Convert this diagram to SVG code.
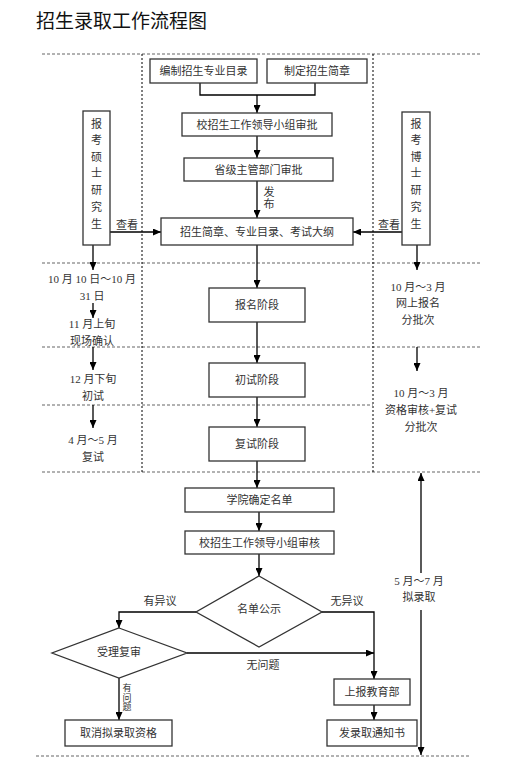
<svg xmlns="http://www.w3.org/2000/svg" width="516" height="768" viewBox="0 0 516 768">
<defs>
<marker id="ah" markerUnits="userSpaceOnUse" markerWidth="8" markerHeight="7" refX="8" refY="3.5" orient="auto">
<path d="M0,0 L8,3.5 L0,7 z" fill="#000"/>
</marker>
<style>
.bx{fill:#fff;stroke:#333;stroke-width:1.3}
.ln{fill:none;stroke:#000;stroke-width:1.3}
.ar{fill:none;stroke:#000;stroke-width:1.3;marker-end:url(#ah)}
.hd{fill:none;stroke:#666;stroke-width:1.2;stroke-dasharray:3 2}
.vd{fill:none;stroke:#000;stroke-width:1;stroke-dasharray:2 2}
.t{font-family:"Liberation Serif","Noto Sans CJK SC",serif;font-size:11px;fill:#333;text-anchor:middle;dominant-baseline:central}
.s{font-size:9px}
.title{font-family:"Noto Sans CJK SC","Liberation Sans",sans-serif;font-size:19px;fill:#111}
</style>
</defs>
<rect width="516" height="768" fill="#fff"/>
<text class="title" x="36" y="28">招生录取工作流程图</text>

<g id="grid">
<line class="hd" x1="42" y1="54" x2="480" y2="54"/>
<line class="hd" x1="42" y1="263" x2="480" y2="263"/>
<line class="hd" x1="42" y1="347" x2="480" y2="347"/>
<line class="hd" x1="42" y1="405" x2="373" y2="405"/>
<line class="hd" x1="42" y1="472" x2="480" y2="472"/>
<line class="hd" x1="36" y1="756" x2="470" y2="756"/>
<line class="vd" x1="142" y1="54" x2="142" y2="472"/>
<line class="vd" x1="373" y1="54" x2="373" y2="472"/>
</g>

<g id="connectors">
<polyline class="ln" points="200,83 200,95 315,95 315,83"/>
<line class="ar" x1="257" y1="95" x2="257" y2="113"/>
<line class="ar" x1="257" y1="136" x2="257" y2="158"/>
<line class="ar" x1="257" y1="181" x2="257" y2="218"/>
<line class="ar" x1="110" y1="232" x2="161" y2="232"/>
<line class="ar" x1="402" y1="232" x2="353" y2="232"/>
<line class="ar" x1="257" y1="245" x2="257" y2="288"/>
<line class="ar" x1="257" y1="322" x2="257" y2="363"/>
<line class="ar" x1="257" y1="397" x2="257" y2="427"/>
<line class="ar" x1="257" y1="461" x2="257" y2="488"/>
<line class="ar" x1="93" y1="245" x2="93" y2="270"/>
<line class="ar" x1="417" y1="245" x2="417" y2="270"/>
<line class="ar" x1="93" y1="303" x2="93" y2="318"/>
<line class="ar" x1="93" y1="347" x2="93" y2="370"/>
<line class="ar" x1="417" y1="347" x2="417" y2="371"/>
<line class="ar" x1="93" y1="405" x2="93" y2="428"/>
<line class="ar" x1="259" y1="512" x2="259" y2="531"/>
<line class="ar" x1="259" y1="554" x2="259" y2="576"/>
<polyline class="ar" points="196,612 119,612 119,628"/>
<polyline class="ar" points="322,612 374,612 374,679"/>
<line class="ar" x1="187" y1="653" x2="374" y2="653"/>
<line class="ar" x1="119" y1="678" x2="119" y2="720"/>
<line class="ar" x1="374" y1="705" x2="374" y2="720"/>
<line class="ar" x1="421" y1="573" x2="421" y2="473"/>
<line class="ar" x1="421" y1="610" x2="421" y2="755"/>
<text class="t" x="269" y="192">发</text>
<text class="t" x="269" y="204">布</text>
<text class="t" x="127" y="225">查看</text>
<text class="t" x="389" y="225">查看</text>
<text class="t" x="160" y="601">有异议</text>
<text class="t" x="347" y="601">无异议</text>
<text class="t" x="263" y="665">无问题</text>
<text class="t s" x="127" y="688">有</text>
<text class="t s" x="127" y="698">问</text>
<text class="t s" x="127" y="707">题</text>
</g>

<g id="n1"><rect class="bx" x="150" y="59" width="107" height="24"/><text class="t" x="203.5" y="71">编制招生专业目录</text></g>
<g id="n2"><rect class="bx" x="267" y="59" width="100" height="24"/><text class="t" x="317" y="71">制定招生简章</text></g>
<g id="n3"><rect class="bx" x="182" y="113" width="150" height="23"/><text class="t" x="257" y="124.5">校招生工作领导小组审批</text></g>
<g id="n4"><rect class="bx" x="184" y="158" width="149" height="23"/><text class="t" x="258.5" y="169.5">省级主管部门审批</text></g>
<g id="n5"><rect class="bx" x="161" y="218" width="192" height="27"/><text class="t" x="257" y="231.5">招生简章、专业目录、考试大纲</text></g>
<g id="master">
<rect class="bx" x="83" y="111" width="27" height="134"/>
<text class="t" x="96.5" y="124">报</text><text class="t" x="96.5" y="140">考</text><text class="t" x="96.5" y="157">硕</text><text class="t" x="96.5" y="173">士</text><text class="t" x="96.5" y="190">研</text><text class="t" x="96.5" y="207">究</text><text class="t" x="96.5" y="224">生</text>
</g>
<g id="doctor">
<rect class="bx" x="402" y="112" width="28" height="133"/>
<text class="t" x="416" y="124">报</text><text class="t" x="416" y="140">考</text><text class="t" x="416" y="157">博</text><text class="t" x="416" y="173">士</text><text class="t" x="416" y="190">研</text><text class="t" x="416" y="207">究</text><text class="t" x="416" y="224">生</text>
</g>
<g id="n6"><rect class="bx" x="209" y="288" width="96" height="34"/><text class="t" x="257" y="305">报名阶段</text></g>
<g id="n7"><rect class="bx" x="209" y="363" width="96" height="34"/><text class="t" x="257" y="380">初试阶段</text></g>
<g id="n8"><rect class="bx" x="209" y="427" width="96" height="34"/><text class="t" x="257" y="444">复试阶段</text></g>
<g id="n9"><rect class="bx" x="185" y="488" width="149" height="24"/><text class="t" x="259.5" y="500">学院确定名单</text></g>
<g id="n10"><rect class="bx" x="185" y="531" width="149" height="23"/><text class="t" x="259.5" y="542.5">校招生工作领导小组审核</text></g>
<g id="d1"><polygon class="bx" points="259,576 322,612 259,647 196,612"/><text class="t" x="259" y="609">名单公示</text></g>
<g id="d2"><polygon class="bx" points="119,628 187,653 119,678 52,653"/><text class="t" x="119" y="652">受理复审</text></g>
<g id="n11"><rect class="bx" x="334" y="679" width="76" height="26"/><text class="t" x="372" y="692">上报教育部</text></g>
<g id="n12"><rect class="bx" x="327" y="720" width="90" height="26"/><text class="t" x="372" y="733">发录取通知书</text></g>
<g id="n13"><rect class="bx" x="65" y="720" width="107" height="26"/><text class="t" x="118.5" y="733">取消拟录取资格</text></g>

<g id="notes">
<text class="t" x="92" y="279">10 月 10 日～10 月</text>
<text class="t" x="92" y="296">31 日</text>
<text class="t" x="92" y="324">11 月上旬</text>
<text class="t" x="92" y="341">现场确认</text>
<text class="t" x="93" y="379">12 月下旬</text>
<text class="t" x="93" y="396">初试</text>
<text class="t" x="93" y="440">4 月～5 月</text>
<text class="t" x="93" y="457">复试</text>
<text class="t" x="418" y="287">10 月～3 月</text>
<text class="t" x="418" y="303">网上报名</text>
<text class="t" x="418" y="320">分批次</text>
<text class="t" x="421" y="393">10 月～3 月</text>
<text class="t" x="421" y="410">资格审核+复试</text>
<text class="t" x="421" y="427">分批次</text>
<text class="t" x="419" y="581">5 月～7 月</text>
<text class="t" x="419" y="597">拟录取</text>
</g>
</svg>
